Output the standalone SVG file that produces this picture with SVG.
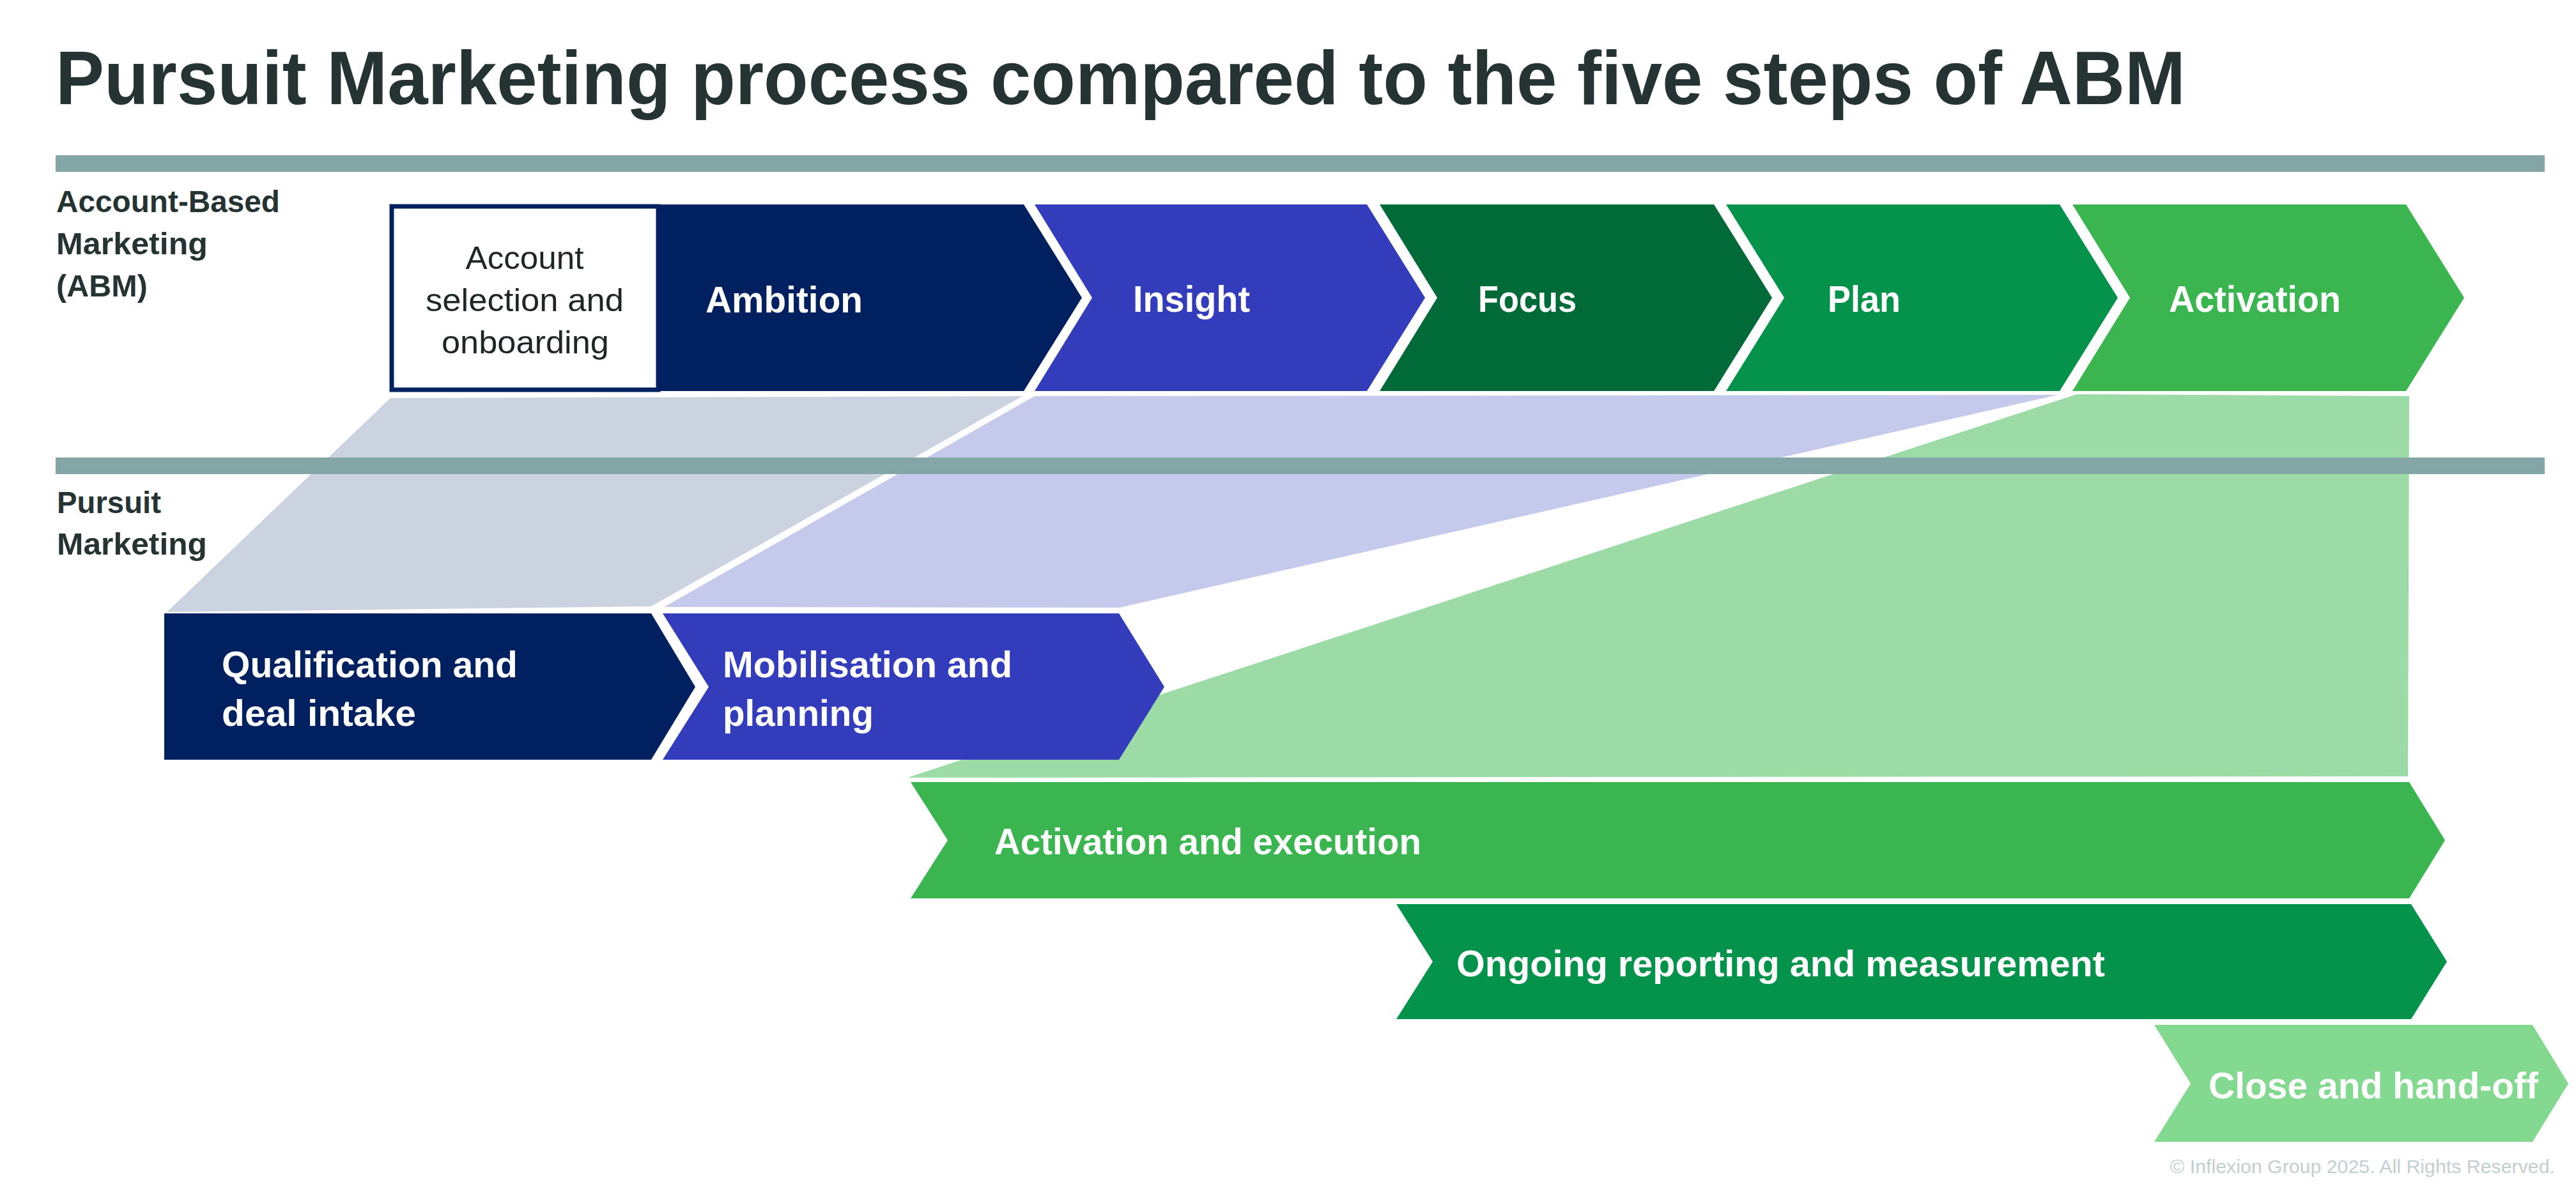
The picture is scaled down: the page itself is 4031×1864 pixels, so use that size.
<svg xmlns="http://www.w3.org/2000/svg" width="4031" height="1864" viewBox="0 0 4031 1864">
<style>
text{font-family:"Liberation Sans",Arial,sans-serif}
.title{font-size:118px;font-weight:bold;fill:#253333}
.lbl{font-size:48px;font-weight:bold;fill:#253333}
.w{font-size:58px;font-weight:bold;fill:#ffffff}
.box{font-size:50px;fill:#1f2626}
.band{fill:#84A6A7}
.navy{fill:#002060}
.blue{fill:#333CBA}
.dg{fill:#006A39}
.mg{fill:#05924A}
.lg{fill:#3AB54F}
.pg{fill:#84D990}
.copy{font-size:29px;fill:#C2CFCF}
</style>
<rect width="4031" height="1864" fill="#ffffff"/>
<text class="title" x="87" y="163" textLength="3333" lengthAdjust="spacingAndGlyphs">Pursuit Marketing process compared to the five steps of ABM</text>
<rect class="band" x="87" y="243" width="3895" height="26"/>

<g id="label-abm">
<text class="lbl" x="88" y="332" textLength="350" lengthAdjust="spacingAndGlyphs">Account-Based</text>
<text class="lbl" x="88" y="398" textLength="237" lengthAdjust="spacingAndGlyphs">Marketing</text>
<text class="lbl" x="88" y="464" textLength="143" lengthAdjust="spacingAndGlyphs">(ABM)</text>
</g>
<g id="label-pursuit">
<text class="lbl" x="89" y="803" textLength="163" lengthAdjust="spacingAndGlyphs">Pursuit</text>
<text class="lbl" x="89" y="868" textLength="235" lengthAdjust="spacingAndGlyphs">Marketing</text>
</g>

<g id="connectors">
<polygon fill="#CCD3E0" points="611,623 1600,620 1019,949 261,958"/>
<polygon fill="#C5C9EB" points="1619,620 3220,618 1751,951 1039,950"/>
<polygon fill="#9DDBA6" points="3250,617 3770,620 3768,1215 1420,1217"/>
</g>

<rect class="band" x="87" y="716" width="3895" height="26"/>

<g id="ambition">
<polygon class="navy" points="610,320 1602,320 1693,466 1602,612 610,612"/>
<text class="w" x="1104" y="489" textLength="246" lengthAdjust="spacingAndGlyphs">Ambition</text>
</g>
<g id="account-selection">
<rect x="613" y="323" width="417" height="287" fill="#ffffff" stroke="#002060" stroke-width="7"/>
<text class="box" x="821" y="421" text-anchor="middle" textLength="185" lengthAdjust="spacingAndGlyphs">Account</text>
<text class="box" x="821" y="487" text-anchor="middle" textLength="310" lengthAdjust="spacingAndGlyphs">selection and</text>
<text class="box" x="822" y="553" text-anchor="middle" textLength="262" lengthAdjust="spacingAndGlyphs">onboarding</text>
</g>
<g id="insight">
<polygon class="blue" points="1619,320 2139,320 2230,466 2139,612 1619,612 1709,466"/>
<text class="w" x="1773" y="488" textLength="183" lengthAdjust="spacingAndGlyphs">Insight</text>
</g>
<g id="focus">
<polygon class="dg" points="2159,320 2682,320 2773,466 2682,612 2159,612 2249,466"/>
<text class="w" x="2313" y="488" textLength="154" lengthAdjust="spacingAndGlyphs">Focus</text>
</g>
<g id="plan">
<polygon class="mg" points="2701,320 3223,320 3314,466 3223,612 2701,612 2792,466"/>
<text class="w" x="2860" y="488" textLength="114" lengthAdjust="spacingAndGlyphs">Plan</text>
</g>
<g id="activation">
<polygon class="lg" points="3243,320 3765,320 3856,466 3765,612 3243,612 3333,466"/>
<text class="w" x="3394" y="488" textLength="269" lengthAdjust="spacingAndGlyphs">Activation</text>
</g>

<g id="qualification">
<polygon class="navy" points="257,960 1019,960 1088,1075 1019,1189 257,1189"/>
<text class="w" x="347" y="1060" textLength="463" lengthAdjust="spacingAndGlyphs">Qualification and</text>
<text class="w" x="347" y="1136" textLength="304" lengthAdjust="spacingAndGlyphs">deal intake</text>
</g>
<g id="mobilisation">
<polygon class="blue" points="1037,960 1751,960 1822,1075 1751,1189 1037,1189 1109,1075"/>
<text class="w" x="1131" y="1060" textLength="453" lengthAdjust="spacingAndGlyphs">Mobilisation and</text>
<text class="w" x="1131" y="1136" textLength="236" lengthAdjust="spacingAndGlyphs">planning</text>
</g>
<g id="activation-execution">
<polygon class="lg" points="1425,1224 3770,1224 3826,1315 3770,1406 1425,1406 1483,1315"/>
<text class="w" x="1556" y="1337" textLength="668" lengthAdjust="spacingAndGlyphs">Activation and execution</text>
</g>
<g id="ongoing-reporting">
<polygon class="mg" points="2185,1415 3773,1415 3829,1505 3773,1595 2185,1595 2242,1505"/>
<text class="w" x="2279" y="1528" textLength="1015" lengthAdjust="spacingAndGlyphs">Ongoing reporting and measurement</text>
</g>
<g id="close-handoff">
<polygon class="pg" points="3371,1604 3963,1604 4019,1696 3963,1787 3371,1787 3428,1696"/>
<text class="w" x="3456" y="1719" textLength="516" lengthAdjust="spacingAndGlyphs">Close and hand-off</text>
</g>

<text class="copy" x="3396" y="1836" textLength="602" lengthAdjust="spacingAndGlyphs">© Inflexion Group 2025. All Rights Reserved.</text>
</svg>
